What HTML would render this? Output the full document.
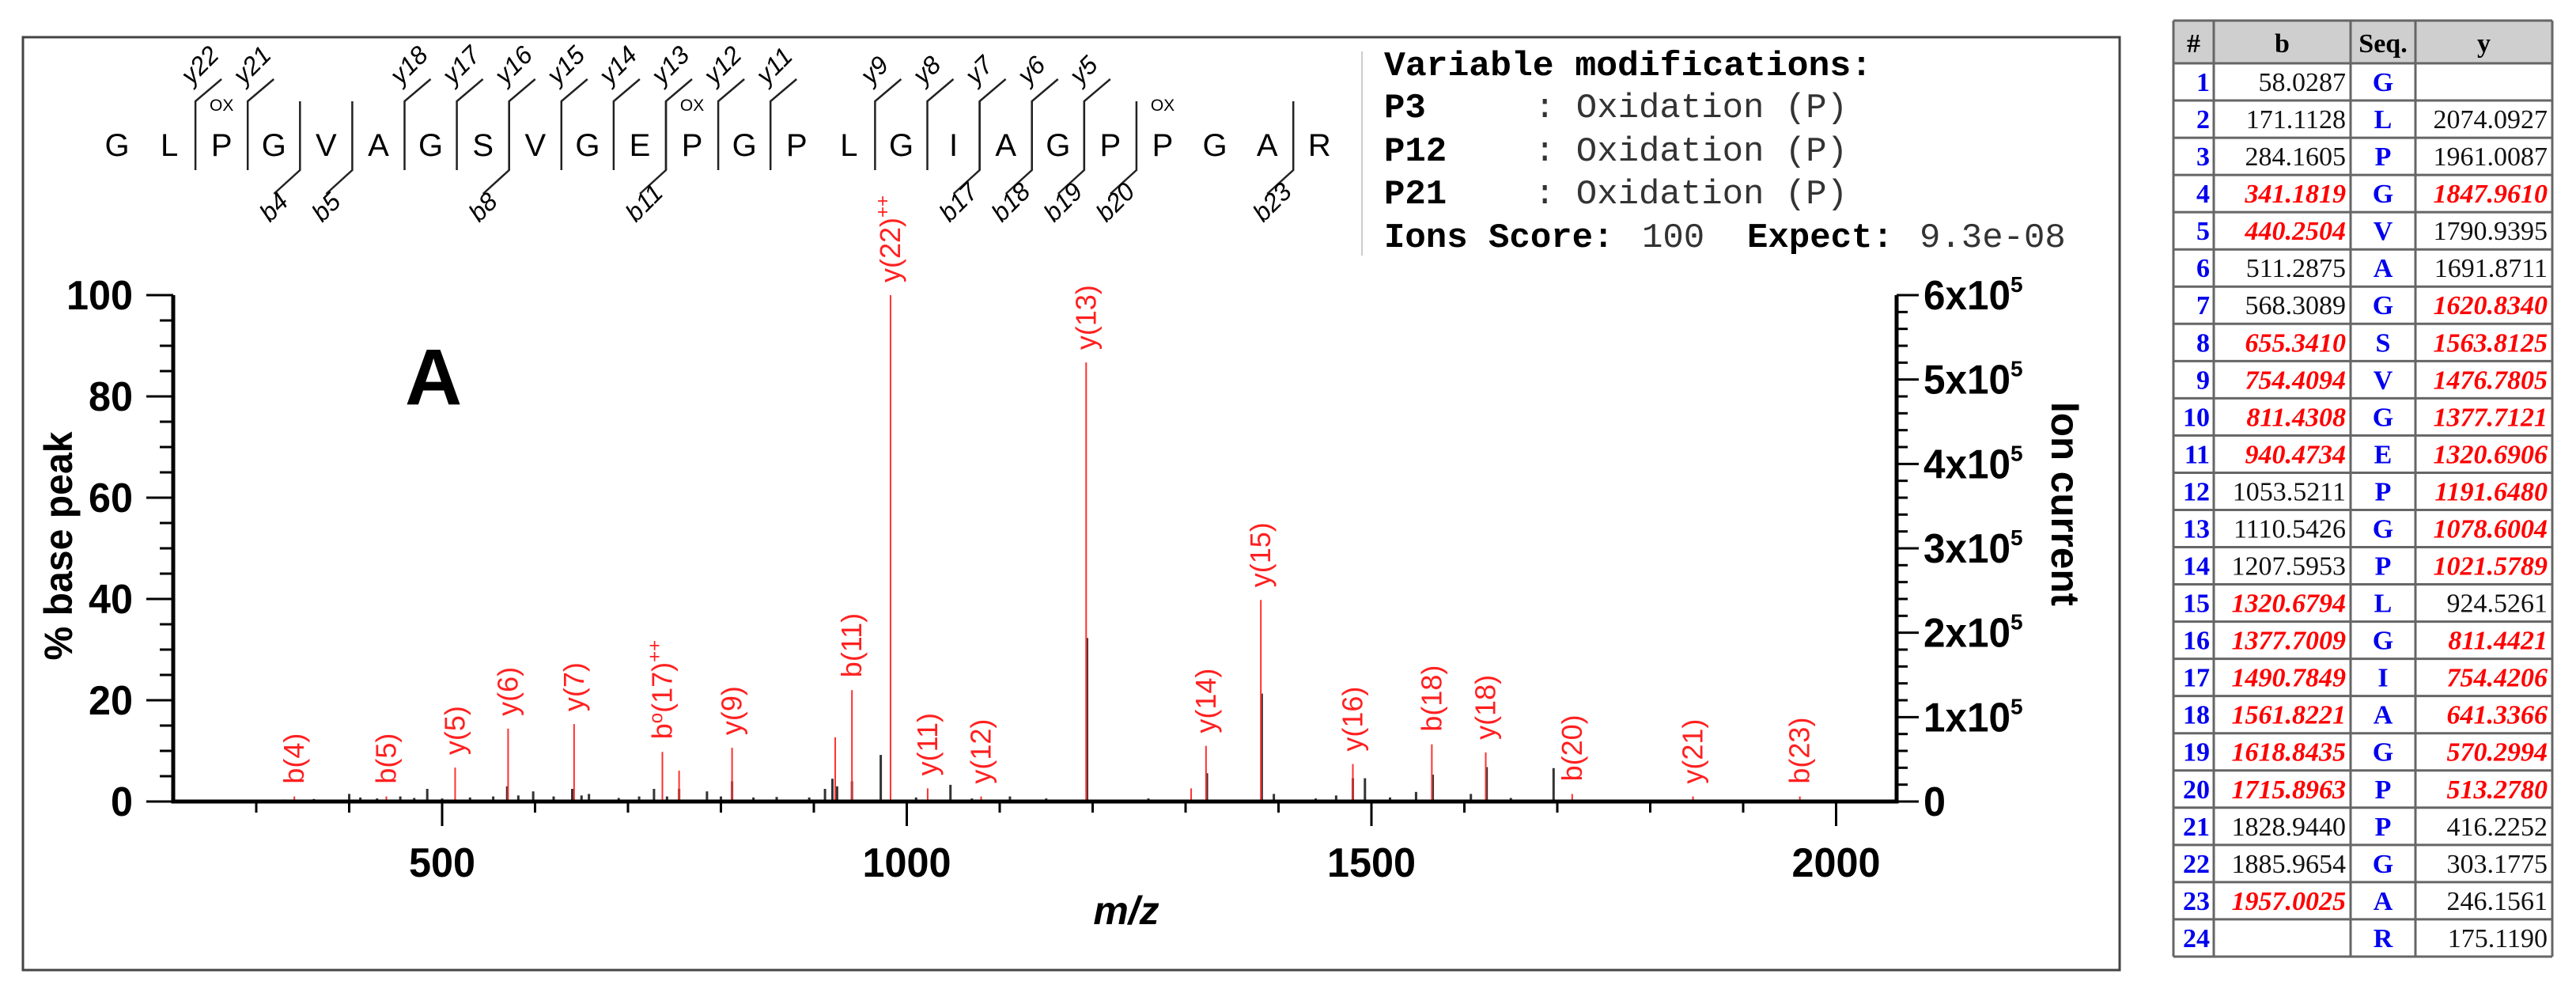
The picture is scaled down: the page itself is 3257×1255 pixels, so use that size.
<!DOCTYPE html>
<html><head><meta charset="utf-8">
<style>
html,body{margin:0;padding:0;background:#fff;}
svg{display:block;}
</style></head>
<body>
<svg id="fig" xmlns="http://www.w3.org/2000/svg" width="3257" height="1255" viewBox="0 0 3257 1255">
<rect x="0" y="0" width="3257" height="1255" fill="#fff"/>
<rect x="29" y="47" width="2651" height="1179" fill="none" stroke="#444" stroke-width="3"/>
<g id="seq"></g>
<g id="mods" font-family="Liberation Mono, monospace" font-size="44">
<line x1="1722" y1="65" x2="1722" y2="323" stroke="#ccc" stroke-width="2"/>
<text x="1750" y="95" font-weight="bold" textLength="617" lengthAdjust="spacingAndGlyphs">Variable modifications:</text>
<text x="1750" y="148"><tspan font-weight="bold">P3</tspan><tspan x="1940" fill="#333">: Oxidation (P)</tspan></text>
<text x="1750" y="203"><tspan font-weight="bold">P12</tspan><tspan x="1940" fill="#333">: Oxidation (P)</tspan></text>
<text x="1750" y="257"><tspan font-weight="bold">P21</tspan><tspan x="1940" fill="#333">: Oxidation (P)</tspan></text>
<text x="1750" y="312"><tspan font-weight="bold">Ions Score:</tspan><tspan x="2076" fill="#333">100</tspan><tspan x="2209" font-weight="bold">Expect:</tspan><tspan x="2427" fill="#333">9.3e-08</tspan></text>
</g>
<g id="plot"></g>
<g id="table"></g>
</svg>
<script>
// ---- Sequence data ----
const residues = ["G","L","P","G","V","A","G","S","V","G","E","P","G","P","L","G","I","A","G","P","P","G","A","R"];
const oxResidues = [3, 12, 21];
const yIons = [22, 21, 18, 17, 16, 15, 14, 13, 12, 11, 9, 8, 7, 6, 5];
const bIons = [4, 5, 8, 11, 17, 18, 19, 20, 23];

// ---- Spectrum data (m/z, % base peak) ----
const labeledMz = [341, 440, 514, 571, 642, 737, 812, 941, 982.5, 1022.5, 1080, 1193, 1322, 1381, 1480, 1565, 1623, 1716, 1846, 1961];
const labeledPct = [1.0, 1.0, 6.7, 14.4, 15.3, 9.8, 10.6, 22, 100, 2.6, 1.0, 86.7, 11, 39.8, 7.4, 11.3, 9.7, 1.5, 1.0, 1.0];
const labeledText = ["b(4)", "b(5)", "y(5)", "y(6)", "y(7)", "b°(17)++", "y(9)", "b(11)", "y(22)++", "y(11)", "y(12)", "y(13)", "y(14)", "y(15)", "y(16)", "b(18)", "y(18)", "b(20)", "y(21)", "b(23)"];
const redMz = [755, 923, 1306];
const redPct = [6.1, 12.7, 2.6];
const blackMz = [330, 362, 400, 412, 430, 455, 470, 484, 500, 530, 555, 570, 582, 598, 620, 640, 650, 658, 690, 712, 728, 742, 755, 785, 800, 812, 835, 860, 895, 912, 920, 925, 941, 972, 1010, 1047, 1070, 1111, 1150, 1194, 1260, 1323, 1382, 1395, 1440, 1462, 1480, 1493, 1520, 1548, 1566, 1607, 1624, 1650, 1696];
const blackPct = [0.4, 0.5, 1.5, 0.8, 0.6, 1.0, 0.7, 2.5, 0.6, 0.8, 1.0, 3, 1.2, 2, 1.0, 2.5, 1.2, 1.5, 0.7, 1.0, 2.5, 1.0, 2.5, 2, 1.0, 4, 0.8, 0.9, 0.8, 2.5, 4.5, 3, 4, 9.2, 0.8, 3.3, 0.6, 1.0, 0.6, 32.3, 0.6, 5.6, 21.3, 1.5, 0.6, 1.2, 4.6, 4.6, 0.8, 1.9, 5.3, 1.5, 6.8, 0.7, 6.6];
const leftTicks = [0, 20, 40, 60, 80, 100];
const rightTicks = [0, 1, 2, 3, 4, 5, 6];
const xTicks = [500, 1000, 1500, 2000];

// ---- Table data ----
const tblB = ["58.0287","171.1128","284.1605","341.1819","440.2504","511.2875","568.3089","655.3410","754.4094","811.4308","940.4734","1053.5211","1110.5426","1207.5953","1320.6794","1377.7009","1490.7849","1561.8221","1618.8435","1715.8963","1828.9440","1885.9654","1957.0025",""];
const tblY = ["","2074.0927","1961.0087","1847.9610","1790.9395","1691.8711","1620.8340","1563.8125","1476.7805","1377.7121","1320.6906","1191.6480","1078.6004","1021.5789","924.5261","811.4421","754.4206","641.3366","570.2994","513.2780","416.2252","303.1775","246.1561","175.1190"];
const redB = [4,5,8,9,10,11,15,16,17,18,19,20,23];
const redY = [4,7,8,9,10,11,12,13,14,16,17,18,19,20];

const NS = "http://www.w3.org/2000/svg";
function mk(parent, tag, attrs, text) {
  const e = document.createElementNS(NS, tag);
  for (const k in attrs) e.setAttribute(k, attrs[k]);
  if (text !== undefined) e.textContent = text;
  parent.appendChild(e);
  return e;
}

// ---- Sequence ----
const seqG = document.getElementById('seq');
const seqX = i => 148 + i * 66.1;
residues.forEach((r, i) => {
  const t = mk(seqG, 'text', {x: seqX(i), y: 197, 'font-family': 'Liberation Sans, sans-serif', 'font-size': 40, 'text-anchor': 'middle'}, r);
  
  
});
oxResidues.forEach(n => {
  const t = mk(seqG, 'text', {x: seqX(n - 1), y: 140, 'font-family': 'Liberation Sans, sans-serif', 'font-size': 21, 'text-anchor': 'middle'}, 'OX');
  
  
});
function divX(k) { return seqX(k - 1) + 33; }
yIons.forEach(n => {
  const d = divX(24 - n);
  const p = mk(seqG, 'path', {d: `M${d},215 L${d},128 L${d + 33},100`, fill: 'none', stroke: '#222', 'stroke-width': 2.5});
  
  
  const t = mk(seqG, 'text', {x: d - 5, y: 108, transform: `rotate(-45 ${d - 5} 108)`, 'font-family': 'Liberation Sans, sans-serif', 'font-size': 32, 'font-style': 'italic'}, 'y' + n);
  
  
});
bIons.forEach(n => {
  const d = divX(n);
  const p = mk(seqG, 'path', {d: `M${d},128 L${d},215 L${d - 33},245`, fill: 'none', stroke: '#222', 'stroke-width': 2.5});
  
  
  const t = mk(seqG, 'text', {x: d - 38, y: 282, transform: `rotate(-45 ${d - 38} 282)`, 'font-family': 'Liberation Sans, sans-serif', 'font-size': 32, 'font-style': 'italic'}, 'b' + n);
  
  
});

// ---- Plot ----
const pg = document.getElementById('plot');
const X0 = 219, X1 = 2398, Y0 = 1013;
const xS = m => 559 + (m - 500) * 1.175;
const yS = p => Y0 - p * 6.4;
const yR = v => Y0 - v * (640 / 6);
const FONT = 'Liberation Sans, sans-serif';

blackMz.forEach((m, i) => {
  const l = mk(pg, 'line', {x1: xS(m), x2: xS(m), y1: Y0, y2: yS(blackPct[i]), stroke: '#333', 'stroke-width': 3});
  
  
});
redMz.forEach((m, i) => {
  const l = mk(pg, 'line', {x1: xS(m), x2: xS(m), y1: Y0, y2: yS(redPct[i]), stroke: '#ff3030', 'stroke-width': 2});
  
  
});
labeledMz.forEach((m, i) => {
  const x = xS(m), yt = yS(labeledPct[i]);
  const l = mk(pg, 'line', {x1: x, x2: x, y1: Y0, y2: yt, stroke: '#ff3030', 'stroke-width': 2});
  
  
  const ty = yt - 16, tx = x + 12;
  const t = mk(pg, 'text', {x: tx, y: ty, transform: `rotate(-90 ${tx} ${ty})`, fill: '#ff2020', 'font-family': FONT, 'font-size': 36});
  
  
  let s = labeledText[i];
  let sup = s.endsWith('++');
  if (sup) s = s.slice(0, -2);
  if (s.indexOf('°') >= 0) {
    mk(t, 'tspan', {}, 'b');
    mk(t, 'tspan', {'font-size': 24, dy: -12}, 'o');
    mk(t, 'tspan', {dy: 12}, s.split('°')[1]);
  } else {
    mk(t, 'tspan', {}, s);
  }
  if (sup) mk(t, 'tspan', {'font-size': 24, dy: -14}, '++');
});

// axes
let a = mk(pg, 'path', {d: `M${X0},${yS(100)} L${X0},${Y0} L${X1},${Y0} L${X1},${yR(6)}`, fill: 'none', stroke: '#000', 'stroke-width': 5});


for (let v = 0; v <= 100; v += 5) {
  const major = v % 20 === 0;
  mk(pg, 'line', {x1: X0 - (major ? 34 : 17), x2: X0, y1: yS(v), y2: yS(v), stroke: '#000', 'stroke-width': 3});
}
leftTicks.forEach(v => {
  const s = String(v);
  const t = mk(pg, 'text', {x: 168, y: yS(v) + 18, 'text-anchor': 'end', 'font-family': FONT, 'font-weight': 'bold', 'font-size': 52, textLength: 28 * s.length, lengthAdjust: 'spacingAndGlyphs'}, s);
  
  
});
for (let v = 0; v <= 6.001; v += 0.2) {
  const major = Math.abs(v - Math.round(v)) < 0.01;
  mk(pg, 'line', {x1: X1, x2: X1 + (major ? 28 : 14), y1: yR(v), y2: yR(v), stroke: '#000', 'stroke-width': 3});
}
rightTicks.forEach(v => {
  const t = mk(pg, 'text', {x: 2432, y: yR(v) + 18, 'font-family': FONT, 'font-weight': 'bold', 'font-size': 52});
  
  
  if (v === 0) { t.textContent = '0'; t.setAttribute('textLength', 28); t.setAttribute('lengthAdjust', 'spacingAndGlyphs'); }
  else {
    mk(t, 'tspan', {textLength: 110, lengthAdjust: 'spacingAndGlyphs'}, v + 'x10');
    mk(t, 'tspan', {'font-size': 28, dy: -22}, '5');
  }
});
for (let m = 300; m <= 2000; m += 100) {
  const major = m % 500 === 0;
  mk(pg, 'line', {x1: xS(m), x2: xS(m), y1: Y0, y2: major ? 1044 : 1027, stroke: '#000', 'stroke-width': 3});
}
xTicks.forEach(m => {
  const t = mk(pg, 'text', {x: xS(m), y: 1108, 'text-anchor': 'middle', 'font-family': FONT, 'font-weight': 'bold', 'font-size': 52, textLength: m >= 1000 ? 112 : 84, lengthAdjust: 'spacingAndGlyphs'}, String(m));
  
  
});
let tt = mk(pg, 'text', {x: 1424, y: 1168, 'text-anchor': 'middle', 'font-family': FONT, 'font-weight': 'bold', 'font-style': 'italic', 'font-size': 50}, 'm/z');


tt = mk(pg, 'text', {x: 91, y: 690, transform: 'rotate(-90 91 690)', 'text-anchor': 'middle', 'font-family': FONT, 'font-weight': 'bold', 'font-size': 50, textLength: 289, lengthAdjust: 'spacingAndGlyphs'}, '% base peak');


tt = mk(pg, 'text', {x: 2594, y: 637, transform: 'rotate(90 2594 637)', 'text-anchor': 'middle', 'font-family': FONT, 'font-weight': 'bold', 'font-size': 50, textLength: 258, lengthAdjust: 'spacingAndGlyphs'}, 'Ion current');


tt = mk(pg, 'text', {x: 512, y: 511, 'font-family': FONT, 'font-weight': 'bold', 'font-size': 100}, 'A');



// ---- Table ----
const tg = document.getElementById('table');
const cx = [2748, 2799, 2972, 3054, 3227];
const rowTop = k => k === 0 ? 26 : 80 + (k - 1) * 47.04;
const TF = 'Liberation Serif, serif';
mk(tg, 'rect', {x: cx[0], y: 26, width: cx[4] - cx[0], height: 54, fill: '#cfcfcf'});
const heads = ['#', 'b', 'Seq.', 'y'];
heads.forEach((h, j) => {
  const t = mk(tg, 'text', {x: (cx[j] + cx[j + 1]) / 2, y: 66, 'text-anchor': 'middle', 'font-family': TF, 'font-weight': 'bold', 'font-size': 34}, h);
  
  
});
for (let r = 1; r <= 24; r++) {
  const base = rowTop(r) + 35;
  let t = mk(tg, 'text', {x: 2794, y: base, 'text-anchor': 'end', fill: '#0000ee', 'font-family': TF, 'font-weight': 'bold', 'font-size': 34}, String(r));
  
  
  const bRed = redB.includes(r), yRed = redY.includes(r);
  t = mk(tg, 'text', {x: 2966, y: base, 'text-anchor': 'end', fill: bRed ? '#ff0000' : '#111', 'font-family': TF, 'font-weight': bRed ? 'bold' : 'normal', 'font-style': bRed ? 'italic' : 'normal', 'font-size': 34}, tblB[r - 1]);
  
  
  t = mk(tg, 'text', {x: 3013, y: base, 'text-anchor': 'middle', fill: '#0000ee', 'font-family': TF, 'font-weight': 'bold', 'font-size': 34}, residues[r - 1]);
  
  
  t = mk(tg, 'text', {x: 3221, y: base, 'text-anchor': 'end', fill: yRed ? '#ff0000' : '#111', 'font-family': TF, 'font-weight': yRed ? 'bold' : 'normal', 'font-style': yRed ? 'italic' : 'normal', 'font-size': 34}, tblY[r - 1]);
  
  
}
for (let r = 0; r <= 25; r++) {
  const y = r === 25 ? 1209 : rowTop(r);
  mk(tg, 'line', {x1: cx[0], x2: cx[4], y1: y, y2: y, stroke: '#666', 'stroke-width': 3});
}
cx.forEach(x => mk(tg, 'line', {x1: x, x2: x, y1: 26, y2: 1209, stroke: '#666', 'stroke-width': 3}));
</script>
</body></html>
